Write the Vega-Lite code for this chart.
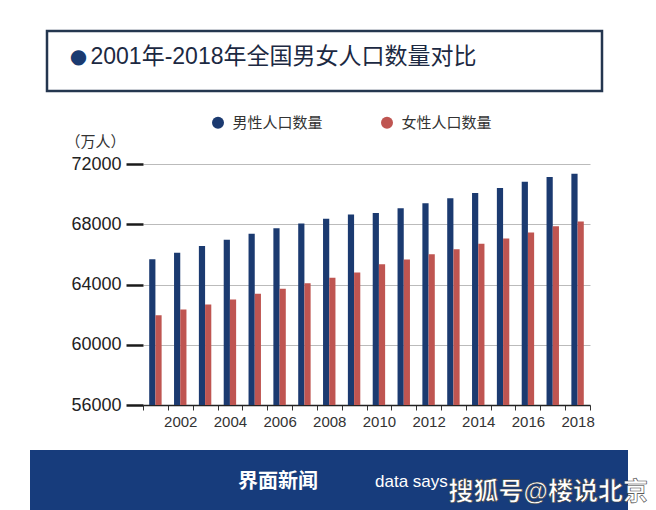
{
  "$schema": "https://vega.github.io/schema/vega-lite/v6.json",
  "padding": {"left": 30, "top": 29, "right": 0, "bottom": 0},
  "background": "white",
  "spacing": 0,
  "bounds": "flush",
  "config": {
    "font": "Liberation Sans, Noto Sans CJK SC",
    "view": {"stroke": null}
  },
  "vconcat": [
    {
      "hconcat": [
        {
          "width": 17, "height": 60,
          "data": {"values": [{}]},
          "mark": {"type": "point", "opacity": 0, "size": 0, "strokeWidth": 0},
          "encoding": {}
        },
        {
          "width": 555,
          "height": 60,
          "data": {"values": [{"bullet": "●", "title": "2001年-2018年全国男女人口数量对比"}]},
          "view": {"stroke": "#24364f", "strokeWidth": 2.5, "fill": "white"},
          "layer": [
            {
              "mark": {"type": "text", "align": "center", "baseline": "middle", "dx": -246, "dy": -4, "font": "DejaVu Sans", "fontSize": 20, "color": "#1a3a70"},
              "encoding": {"text": {"field": "bullet"}}
            },
            {
              "mark": {"type": "text", "align": "left", "baseline": "middle", "dx": -234, "dy": -4, "fontSize": 23, "color": "#1c2942"},
              "encoding": {"text": {"field": "title"}}
            }
          ]
        }
      ],
      "spacing": 0,
      "bounds": "flush"
    },
    {
      "width": 1, "height": 132.7,
      "data": {"values": [{}]},
      "mark": {"type": "point", "opacity": 0, "size": 0, "strokeWidth": 0},
      "encoding": {}
    },
    {
      "hconcat": [
        {
          "width": 112.7, "height": 241,
          "data": {"values": [{}]},
          "mark": {"type": "point", "opacity": 0, "size": 0, "strokeWidth": 0},
          "encoding": {}
        },
        {
          "width": 447,
          "height": 241,
          "data": {
            "values": [
              {"year": "2001", "sex": "男性人口数量", "value": 65672},
              {"year": "2002", "sex": "男性人口数量", "value": 66115},
              {"year": "2003", "sex": "男性人口数量", "value": 66556},
              {"year": "2004", "sex": "男性人口数量", "value": 66976},
              {"year": "2005", "sex": "男性人口数量", "value": 67375},
              {"year": "2006", "sex": "男性人口数量", "value": 67728},
              {"year": "2007", "sex": "男性人口数量", "value": 68048},
              {"year": "2008", "sex": "男性人口数量", "value": 68357},
              {"year": "2009", "sex": "男性人口数量", "value": 68647},
              {"year": "2010", "sex": "男性人口数量", "value": 68748},
              {"year": "2011", "sex": "男性人口数量", "value": 69068},
              {"year": "2012", "sex": "男性人口数量", "value": 69395},
              {"year": "2013", "sex": "男性人口数量", "value": 69728},
              {"year": "2014", "sex": "男性人口数量", "value": 70079},
              {"year": "2015", "sex": "男性人口数量", "value": 70414},
              {"year": "2016", "sex": "男性人口数量", "value": 70815},
              {"year": "2017", "sex": "男性人口数量", "value": 71137},
              {"year": "2018", "sex": "男性人口数量", "value": 71351},
              {"year": "2001", "sex": "女性人口数量", "value": 61955},
              {"year": "2002", "sex": "女性人口数量", "value": 62338},
              {"year": "2003", "sex": "女性人口数量", "value": 62671},
              {"year": "2004", "sex": "女性人口数量", "value": 63012},
              {"year": "2005", "sex": "女性人口数量", "value": 63381},
              {"year": "2006", "sex": "女性人口数量", "value": 63720},
              {"year": "2007", "sex": "女性人口数量", "value": 64081},
              {"year": "2008", "sex": "女性人口数量", "value": 64445},
              {"year": "2009", "sex": "女性人口数量", "value": 64803},
              {"year": "2010", "sex": "女性人口数量", "value": 65343},
              {"year": "2011", "sex": "女性人口数量", "value": 65667},
              {"year": "2012", "sex": "女性人口数量", "value": 66009},
              {"year": "2013", "sex": "女性人口数量", "value": 66344},
              {"year": "2014", "sex": "女性人口数量", "value": 66703},
              {"year": "2015", "sex": "女性人口数量", "value": 67048},
              {"year": "2016", "sex": "女性人口数量", "value": 67456},
              {"year": "2017", "sex": "女性人口数量", "value": 67871},
              {"year": "2018", "sex": "女性人口数量", "value": 68187}
            ]
          },
          "mark": {"type": "bar", "clip": true},
          "encoding": {
            "x": {
              "field": "year",
              "type": "ordinal",
              "scale": {"paddingInner": 0, "paddingOuter": 0},
              "axis": {
                "title": null,
                "labelAngle": 0,
                "labelExpr": "toNumber(datum.value) % 2 == 0 ? datum.value : ''",
                "labelFontSize": 15,
                "labelColor": "#333333",
                "tickBand": "extent",
                "tickSize": 5,
                "tickColor": "#333333",
                "tickWidth": 1,
                "domainColor": "#222222",
                "domainWidth": 1.5,
                "labelPadding": 4,
                "grid": false
              }
            },
            "xOffset": {
              "field": "sex",
              "type": "nominal",
              "sort": ["男性人口数量", "女性人口数量"],
              "scale": {"paddingInner": 0, "paddingOuter": 1}
            },
            "y": {
              "field": "value",
              "type": "quantitative",
              "scale": {"domain": [56000, 72000], "zero": false, "nice": false},
              "axis": {
                "values": [56000, 60000, 64000, 68000, 72000],
                "format": "d",
                "title": "（万人）",
                "titleAngle": 0,
                "titleAlign": "left",
                "titleBaseline": "middle",
                "titleX": -78,
                "titleY": -23,
                "titleFontSize": 15,
                "titleFontWeight": "normal",
                "titleColor": "#333333",
                "labelFontSize": 18,
                "labelColor": "#222222",
                "labelPadding": 5,
                "tickSize": 17,
                "tickWidth": 2.5,
                "tickColor": "#1a1a1a",
                "domain": false,
                "grid": true,
                "gridColor": "#bbbbbb",
                "gridWidth": 1
              }
            },
            "color": {
              "field": "sex",
              "type": "nominal",
              "sort": ["男性人口数量", "女性人口数量"],
              "scale": {"domain": ["男性人口数量", "女性人口数量"], "range": ["#1b3a70", "#bf5551"]},
              "legend": {
                "title": null,
                "orient": "none",
                "legendX": 180.5,
                "legendY": 84,
                "direction": "horizontal",
                "symbolType": "circle",
                "symbolSize": 144,
                "symbolStrokeWidth": 0,
                "symbolOpacity": 1,
                "labelFontSize": 15,
                "labelColor": "#333333",
                "labelOffset": 7,
                "columnPadding": 56,
                "padding": 0
              }
            }
          }
        }
      ],
      "spacing": 0,
      "bounds": "flush"
    },
    {
      "width": 1, "height": 285.3,
      "data": {"values": [{}]},
      "mark": {"type": "point", "opacity": 0, "size": 0, "strokeWidth": 0},
      "encoding": {}
    },
    {
      "width": 598,
      "height": 60,
      "view": {"fill": "#173c7c", "stroke": null},
      "data": {"values": [{"brand": "界面新闻", "ds": "data says", "mark": "搜狐号@楼说北京"}]},
      "layer": [
        {
          "mark": {"type": "text", "align": "left", "baseline": "middle", "dx": -91, "dy": 2, "fontSize": 20, "fontWeight": "bold", "color": "white"},
          "encoding": {"text": {"field": "brand"}}
        },
        {
          "mark": {"type": "text", "align": "left", "baseline": "middle", "dx": 46, "dy": 2, "fontSize": 17, "color": "white"},
          "encoding": {"text": {"field": "ds"}}
        },
        {
          "mark": {"type": "text", "align": "right", "baseline": "middle", "dx": 319, "dy": 12, "fontSize": 25, "fontWeight": "bold", "color": "white", "stroke": "#3a3a3a", "strokeWidth": 0.6},
          "encoding": {"text": {"field": "mark"}}
        }
      ]
    }
  ]
}
